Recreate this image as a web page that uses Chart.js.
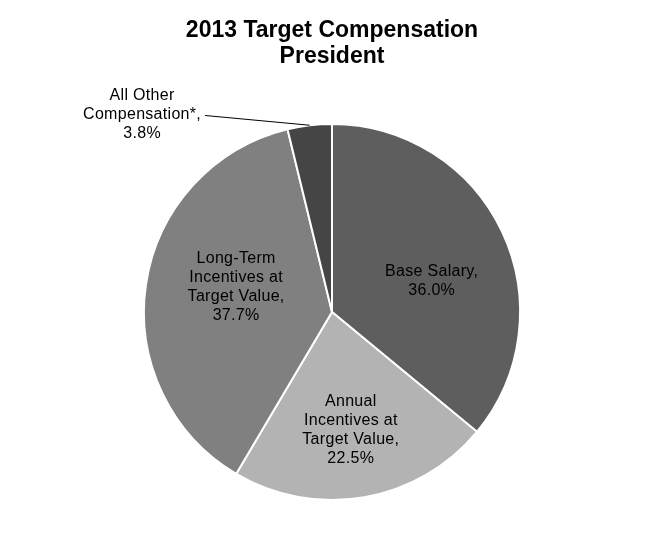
<!DOCTYPE html>
<html>
<head>
<meta charset="utf-8">
<script src="https://cdn.jsdelivr.net/npm/chart.js@4"></script>
<style>
  html, body { margin: 0; padding: 0; background: #fff; }
  #wrap { width: 664px; height: 555px; }
</style>
</head>
<body>
<div id="wrap"><canvas id="pie" width="664" height="555"></canvas></div>
<script>
// data
const categories = ['Base Salary', 'Annual Incentives at Target Value', 'Long-Term Incentives at Target Value', 'All Other Compensation*'];
const shares = [36.0, 22.5, 37.7, 3.8];
const sliceColors = ['#5e5e5e', '#b3b3b3', '#808080', '#454545'];
// how each label is broken into lines
const labelLines = [
    ['Base Salary,'],
    ['Annual', 'Incentives at', 'Target Value,'],
    ['Long-Term', 'Incentives at', 'Target Value,'],
    ['All Other', 'Compensation*,']
];

// label anchor relative to pie centre, as fraction of radius
const labelSpots = [[0.53, -0.165], [0.10, 0.63], [-0.51, -0.13], [-1.01, -1.05]];

const sliceLabels = {
    id: 'sliceLabels',
    afterDatasetsDraw(chart) {
        const ctx = chart.ctx;
        const arcs = chart.getDatasetMeta(0).data;
        ctx.save();
        ctx.font = '16px "Liberation Sans", Arial, sans-serif';
        ctx.fillStyle = '#000';
        ctx.textAlign = 'center';
        ctx.textBaseline = 'middle';
        if ('letterSpacing' in ctx) ctx.letterSpacing = '0.3px';
        const lh = 19;
        arcs.forEach((arc, i) => {
            const r = arc.outerRadius;
            const lines = labelLines[i].concat(shares[i].toFixed(1) + '%');
            const cx = arc.x + labelSpots[i][0] * r;
            const cy = arc.y + labelSpots[i][1] * r;
            const top = cy - (lines.length - 1) * lh / 2;
            lines.forEach((t, k) => ctx.fillText(t, cx, top + k * lh));

            // outside label gets a leader line to the slice edge
            if (Math.hypot(labelSpots[i][0], labelSpots[i][1]) > 1) {
                const mid = (arc.startAngle + arc.endAngle) / 2;
                const ex = arc.x + Math.cos(mid) * r;
                const ey = arc.y + Math.sin(mid) * r;
                const w = ctx.measureText(lines[1]).width;
                ctx.beginPath();
                ctx.strokeStyle = '#000';
                ctx.lineWidth = 1;
                ctx.moveTo(cx + w / 2 + 4, top + lh + 1);
                ctx.lineTo(ex, ey);
                ctx.stroke();
            }
        });
        ctx.restore();
    }
};

new Chart(document.getElementById('pie'), {
    type: 'pie',
    data: {
        labels: categories,
        datasets: [{
            data: shares,
            backgroundColor: sliceColors,
            borderColor: '#ffffff',
            borderWidth: 2
        }]
    },
    options: {
        responsive: false,
        animation: false,
        layout: { padding: { top: 0, bottom: 54, left: 100, right: 100 } },
        plugins: {
            legend: { display: false },
            tooltip: { enabled: false },
            title: {
                display: true,
                text: ['2013 Target Compensation', 'President'],
                color: '#000',
                font: { family: '"Liberation Sans", Arial, sans-serif', size: 23, weight: 'bold', lineHeight: 1.15 },
                padding: { top: 17, bottom: 53 }
            }
        }
    },
    plugins: [sliceLabels]
});
</script>
</body>
</html>
